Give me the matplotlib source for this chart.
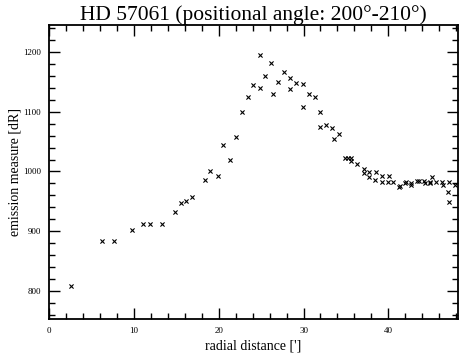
import matplotlib
matplotlib.use("Agg")
import matplotlib.pyplot as plt
from matplotlib.ticker import MultipleLocator

# radial distance [arcmin] and emission measure [dR]
radial_distance = [
    2.6, 6.2, 7.6, 9.8, 11.1, 11.9, 13.3, 14.8, 15.5, 16.2, 16.9, 18.4, 19.0,
    19.9, 20.5, 21.3, 22.0, 22.7, 23.5, 24.1, 24.9, 24.9, 25.5, 26.2, 26.4,
    27.0, 27.7, 28.4, 28.4, 29.1, 29.9, 29.95, 30.6, 31.3, 32.0, 32.0, 32.7,
    33.4, 33.6, 34.2, 34.9, 35.2, 35.6, 35.6, 36.3, 37.1, 37.1, 37.7, 37.7,
    38.4, 38.6, 39.2, 39.2, 39.9, 40.1, 40.6, 41.3, 41.4, 42.0, 42.1, 42.7,
    42.7, 43.4, 43.6, 44.2, 44.3, 44.9, 44.9, 45.1, 45.65, 46.3, 46.4, 47.0,
    47.1, 47.1, 47.8,
]
emission_measure = [
    808, 884, 884, 902, 912, 912, 912, 933, 948, 951, 958, 985, 1001,
    993, 1044, 1019, 1058, 1099, 1125, 1145, 1194, 1139, 1160, 1182, 1129,
    1150, 1167, 1156, 1138, 1148, 1146, 1108, 1129, 1125, 1099, 1075, 1077,
    1072, 1055, 1062, 1022, 1022, 1022, 1018, 1012, 1004, 998, 999, 990,
    986, 999, 993, 983, 983, 993, 982, 974, 976, 981, 982, 981,
    977, 984, 984, 984, 981, 983, 980, 990, 983, 983, 977, 966,
    983, 949, 977,
]

TITLE = "HD 57061 (positional angle: 200°-210°)"
XLABEL = "radial distance [']"
YLABEL = "emission measure [dR]"

plt.rcParams["font.family"] = ["Liberation Serif", "DejaVu Serif"]

fig = plt.figure(figsize=(4.63, 3.57), dpi=100)
ax = fig.add_axes([0.106, 0.106, 0.883, 0.824])

ax.scatter(radial_distance, emission_measure, marker="x", s=9,
           color="black", linewidths=0.8)

ax.set_xlim(0, 48.2)
ax.set_ylim(753, 1245)
ax.xaxis.set_major_locator(MultipleLocator(10))
ax.xaxis.set_minor_locator(MultipleLocator(2))
ax.yaxis.set_major_locator(MultipleLocator(100))
ax.yaxis.set_minor_locator(MultipleLocator(20))
ax.tick_params(which="both", direction="in", top=True, right=True,
               labelsize=6.5, width=1.0, pad=6)
ax.tick_params(which="major", length=8)
ax.tick_params(which="minor", length=4)
for s in ax.spines.values():
    s.set_linewidth(1.3)

ax.set_title(TITLE, fontsize=15.5, pad=2)
ax.set_xlabel(XLABEL, fontsize=10, labelpad=3)
ax.set_ylabel(YLABEL, fontsize=10, labelpad=1)

fig.savefig("out.png", dpi=100)
